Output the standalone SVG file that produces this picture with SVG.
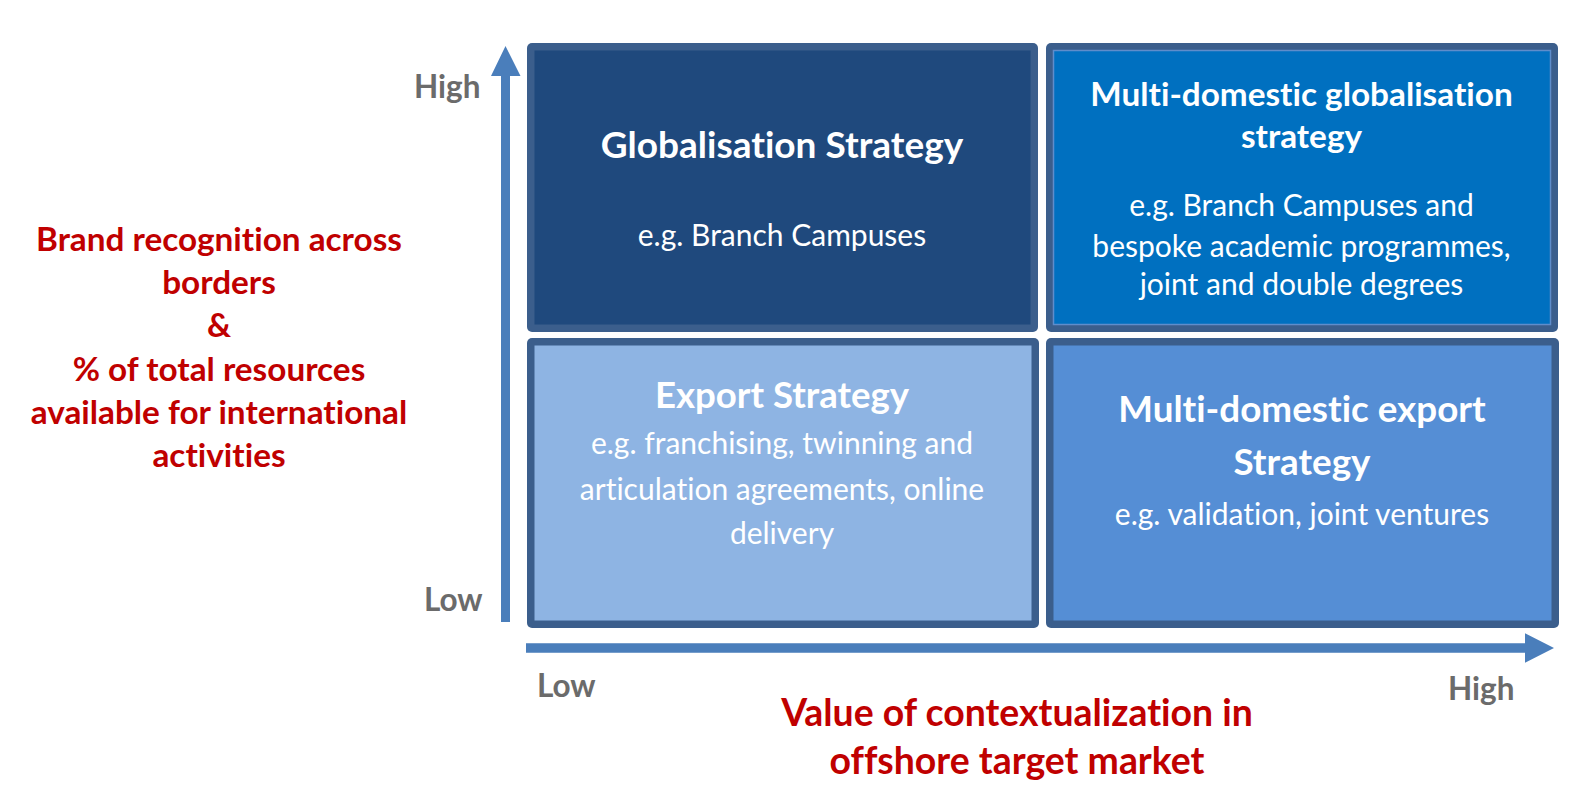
<svg xmlns="http://www.w3.org/2000/svg" width="1588" height="801" viewBox="0 0 1588 801">
<style>
  text { font-variant-ligatures: none; font-feature-settings: "liga" 0, "clig" 0; }
  .border { fill: #3B5E8C; }
  .title { font-family: Lato, "Open Sans", sans-serif; font-weight: bold; fill: #FFFFFF; text-anchor: middle; }
  .body { font-family: Lato, "Open Sans", sans-serif; font-weight: normal; fill: #FFFFFF; text-anchor: middle; font-size: 30px; }
  .red { font-family: Lato, "Open Sans", sans-serif; font-weight: bold; fill: #C00000; text-anchor: middle; }
  .left { font-size: 33.3px; }
  .bottom { font-size: 37.4px; }
  .gray { font-family: Lato, "Open Sans", sans-serif; font-weight: bold; fill: #6B6B6B; font-size: 31.5px; }
  .axis { fill: #4A7EBB; }
</style>
<rect x="0" y="0" width="1588" height="801" fill="#FFFFFF"/>

<g id="connectors">
  <polygon class="axis" points="501,622 510,622 510,76 520.5,76 505.5,46 491,76 501,76"/>
  <polygon class="axis" points="526,643.3 1525,643.3 1525,633.3 1554,648 1525,662.7 1525,652.7 526,652.7"/>
</g>

<g id="globalisation-strategy">
  <rect class="border" x="527" y="43" width="511" height="289" rx="5"/>
  <rect x="534.5" y="50.5" width="496" height="274" fill="#1F497D"/>
  <text class="title" x="782" y="157.5" font-size="37">Globalisation Strategy</text>
  <text class="body" x="782" y="246" font-size="29.3">e.g. Branch Campuses</text>
</g>

<g id="multi-domestic-globalisation-strategy">
  <rect class="border" x="1046" y="43" width="512" height="289" rx="5"/>
  <rect x="1053.5" y="50.5" width="497" height="274" fill="#0070C0" stroke="#5F8DCB" stroke-width="1.5"/>
  <text class="title" x="1301.5" y="105.5" font-size="33.3">Multi-domestic globalisation</text>
  <text class="title" x="1301.5" y="148" font-size="33.3">strategy</text>
  <text class="body" x="1301.5" y="216">e.g. Branch Campuses and</text>
  <text class="body" x="1301.5" y="256.5">bespoke academic programmes,</text>
  <text class="body" x="1301.5" y="295">joint and double degrees</text>
</g>

<g id="export-strategy">
  <rect class="border" x="527" y="338" width="512" height="290" rx="5"/>
  <rect x="534.5" y="345.5" width="497" height="275" fill="#8EB4E3"/>
  <text class="title" x="782" y="408" font-size="36.6">Export Strategy</text>
  <text class="body" x="782" y="454">e.g. franchising, twinning and</text>
  <text class="body" x="782" y="499.5">articulation agreements, online</text>
  <text class="body" x="782" y="544">delivery</text>
</g>

<g id="multi-domestic-export-strategy">
  <rect class="border" x="1046" y="338" width="513" height="290" rx="5"/>
  <rect x="1053.5" y="345.5" width="498" height="275" fill="#558ED5"/>
  <text class="title" x="1302" y="421.5" font-size="36.8">Multi-domestic export</text>
  <text class="title" x="1302" y="475" font-size="36.8">Strategy</text>
  <text class="body" x="1302" y="525">e.g. validation, joint ventures</text>
</g>

<g id="y-axis-labels">
  <text class="gray" x="414" y="98">High</text>
  <text class="gray" x="424" y="611">Low</text>
  <text class="red left" x="219" y="251">Brand recognition across</text>
  <text class="red left" x="219" y="294">borders</text>
  <text class="red left" x="219" y="337">&amp;</text>
  <text class="red left" x="219" y="381">% of total resources</text>
  <text class="red left" x="219" y="424">available for international</text>
  <text class="red left" x="219" y="467">activities</text>
</g>

<g id="x-axis-labels">
  <text class="gray" x="537" y="697">Low</text>
  <text class="gray" x="1448" y="700">High</text>
  <text class="red bottom" x="1017" y="726">Value of contextualization in</text>
  <text class="red bottom" x="1017" y="774">offshore target market</text>
</g>
</svg>
